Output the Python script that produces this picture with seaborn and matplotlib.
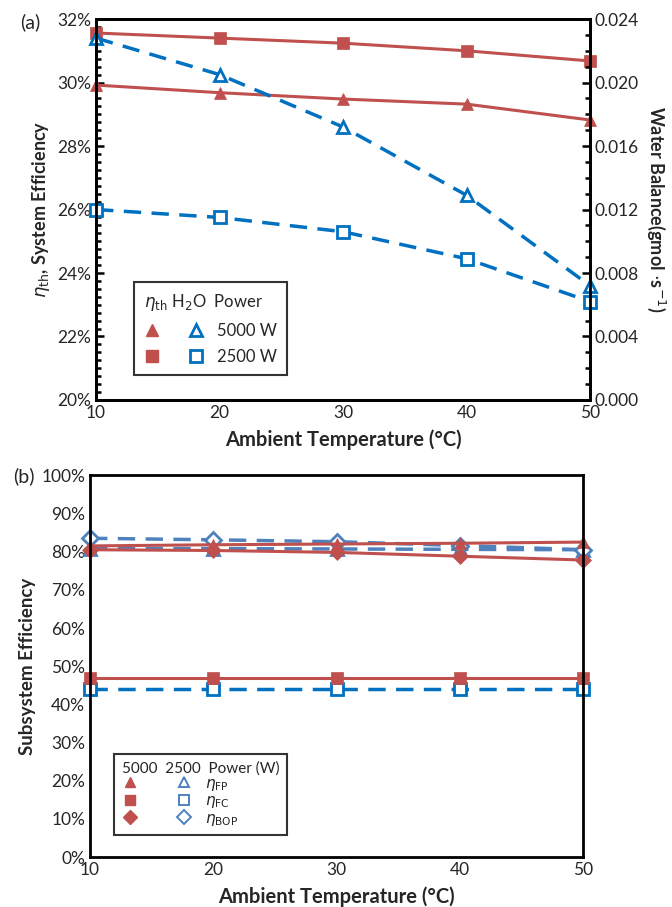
import numpy as np
import pandas as pd
import matplotlib
matplotlib.use("Agg")
import matplotlib.pyplot as plt
import matplotlib.ticker as mtick
from matplotlib.lines import Line2D
from matplotlib.legend_handler import HandlerTuple
import seaborn as sns

# dados
temps = [10, 20, 30, 40, 50]

# (a) eficiencia do sistema (%) e balanco de agua (gmol/s)
eta_th_5000 = [29.92, 29.68, 29.48, 29.32, 28.82]
eta_th_2500 = [31.56, 31.40, 31.24, 31.00, 30.68]
h2o_5000 = [0.0228, 0.0205, 0.0172, 0.0129, 0.0072]
h2o_2500 = [0.0120, 0.0115, 0.0106, 0.0089, 0.0062]

# (b) eficiencia dos subsistemas (%)
fp_5000 = [81.5, 81.8, 82.0, 82.2, 82.5]
fc_5000 = [47.0, 47.0, 47.0, 47.0, 47.0]
bop_5000 = [80.5, 80.3, 79.8, 78.8, 77.8]
fp_2500 = [80.8, 80.8, 80.7, 80.6, 80.5]
fc_2500 = [44.0, 44.0, 44.0, 44.0, 44.0]
bop_2500 = [83.5, 83.1, 82.6, 81.6, 80.5]

vermelho = "#C0504D"
azul_a = "#0070C0"
azul_b = "#4F81BD"

sns.set_style("white")
plt.rcParams['font.family'] = ['Lato', 'DejaVu Sans']
plt.rcParams['mathtext.fontset'] = 'dejavusans'

fig = plt.figure(figsize=(6.72, 9.07), dpi=100)
ax_a = fig.add_axes([0.143, 0.559, 0.735, 0.420])
ax_b = fig.add_axes([0.134, 0.055, 0.734, 0.421])


def estilo_eixo(ax):
    for s in ax.spines.values():
        s.set_linewidth(2)
        s.set_color('black')
    ax.tick_params(which='both', direction='in', color='black', width=1.8, labelsize=12.5)
    ax.tick_params(which='major', length=6)
    ax.tick_params(which='minor', length=3.5)


def linha(ax, y, cor, mk, aberto=False, tracejado=False, ms=9, lw=2.2):
    sns.lineplot(x=temps, y=y, ax=ax, color=cor, marker=mk, markersize=ms,
                 markerfacecolor='white' if aberto else cor,
                 markeredgecolor=cor, markeredgewidth=2 if aberto else 0.5,
                 linewidth=lw, linestyle=(0, (5, 3)) if tracejado else '-',
                 clip_on=False, legend=False)


# ---------- painel (a)
ax_w = ax_a.twinx()
linha(ax_a, eta_th_2500, vermelho, 's')
linha(ax_a, eta_th_5000, vermelho, '^')
linha(ax_w, h2o_5000, azul_a, '^', aberto=True, tracejado=True, lw=2.5)
linha(ax_w, h2o_2500, azul_a, 's', aberto=True, tracejado=True, lw=2.5)

ax_a.set_xlim(10, 50)
ax_a.set_ylim(20, 32)
ax_w.set_ylim(0, 0.024)
ax_a.set_xticks(temps)
ax_a.xaxis.set_minor_locator(mtick.MultipleLocator(2))
ax_a.yaxis.set_major_locator(mtick.MultipleLocator(2))
ax_a.yaxis.set_minor_locator(mtick.MultipleLocator(0.25))
ax_a.yaxis.set_major_formatter(mtick.FormatStrFormatter('%d%%'))
ax_w.yaxis.set_major_locator(mtick.MultipleLocator(0.004))
ax_w.yaxis.set_minor_locator(mtick.MultipleLocator(0.001))
ax_w.yaxis.set_major_formatter(mtick.FormatStrFormatter('%.3f'))
estilo_eixo(ax_a)
estilo_eixo(ax_w)

ax_a.set_xlabel('Ambient Temperature (°C)', fontsize=14.5, fontweight='bold', labelpad=6)
ax_a.set_ylabel(r'$\eta_{\rm th}$, System Efficiency', fontsize=13, fontweight='bold')
ax_w.set_ylabel(r'Water Balance(gmol $\cdot$s$^{-1}$)', fontsize=13, fontweight='bold',
                rotation=270, labelpad=20)
fig.text(0.045, 0.975, '(a)', fontsize=14, va='center', ha='center')

hm = dict(linestyle='none', markersize=9)
h_5000 = (Line2D([], [], marker='^', color=vermelho, **hm),
          Line2D([], [], marker='^', color=azul_a, markerfacecolor='white', markeredgewidth=2, **hm))
h_2500 = (Line2D([], [], marker='s', color=vermelho, **hm),
          Line2D([], [], marker='s', color=azul_a, markerfacecolor='white', markeredgewidth=2, **hm))
leg = ax_a.legend([h_5000, h_2500], ['5000 W', '2500 W'],
                  handler_map={tuple: HandlerTuple(ndivide=None, pad=1.6)},
                  handlelength=3.6, title=r'$\eta_{\rm th}$ H$_2$O  Power', title_fontsize=12,
                  fontsize=12, loc='lower left', bbox_to_anchor=(0.06, 0.045),
                  frameon=True, fancybox=False, edgecolor='black', borderpad=0.6,
                  labelspacing=0.6, handletextpad=0.8)
leg.get_frame().set_linewidth(1.5)
leg._legend_box.align = 'left'

# ---------- painel (b)
linha(ax_b, fp_2500, azul_b, '^', aberto=True, tracejado=True, lw=2.5)
linha(ax_b, bop_2500, azul_b, 'D', aberto=True, tracejado=True, lw=2.5, ms=8)
linha(ax_b, fc_2500, azul_a, 's', aberto=True, tracejado=True, lw=2.5, ms=8)
linha(ax_b, fp_5000, vermelho, '^')
linha(ax_b, bop_5000, vermelho, 'D', ms=8)
linha(ax_b, fc_5000, vermelho, 's')

ax_b.set_xlim(10, 50)
ax_b.set_ylim(0, 100)
ax_b.set_xticks(temps)
ax_b.xaxis.set_minor_locator(mtick.MultipleLocator(5))
ax_b.yaxis.set_major_locator(mtick.MultipleLocator(10))
ax_b.yaxis.set_minor_locator(mtick.MultipleLocator(1))
ax_b.yaxis.set_major_formatter(mtick.FormatStrFormatter('%d%%'))
estilo_eixo(ax_b)
ax_b.set_xlabel('Ambient Temperature (°C)', fontsize=14.5, fontweight='bold', labelpad=6)
ax_b.set_ylabel('Subsystem Efficiency', fontsize=13.5, fontweight='bold')
fig.text(0.035, 0.475, '(b)', fontsize=14, va='center', ha='center')

hb = dict(linestyle='none', markersize=7)
def par(mk):
    return (Line2D([], [], marker=mk, color=vermelho, **hb),
            Line2D([], [], marker=mk, color=azul_b, markerfacecolor='white', markeredgewidth=1.4, **hb))
leg_b = ax_b.legend([par('^'), par('s'), par('D')],
                    [r'$\eta_{\rm FP}$', r'$\eta_{\rm FC}$', r'$\eta_{\rm BOP}$'],
                    handler_map={tuple: HandlerTuple(ndivide=None, pad=2.4)},
                    handlelength=4.6, title='5000  2500  Power (W)', title_fontsize=11,
                    fontsize=11, loc='lower left', bbox_to_anchor=(0.034, 0.037),
                    frameon=True, fancybox=False, edgecolor='black', borderpad=0.5,
                    labelspacing=0.05, handletextpad=0.8, handleheight=0.9)
leg_b.get_frame().set_linewidth(1.5)
leg_b._legend_box.align = 'left'

fig.savefig('out.png', dpi=100)
